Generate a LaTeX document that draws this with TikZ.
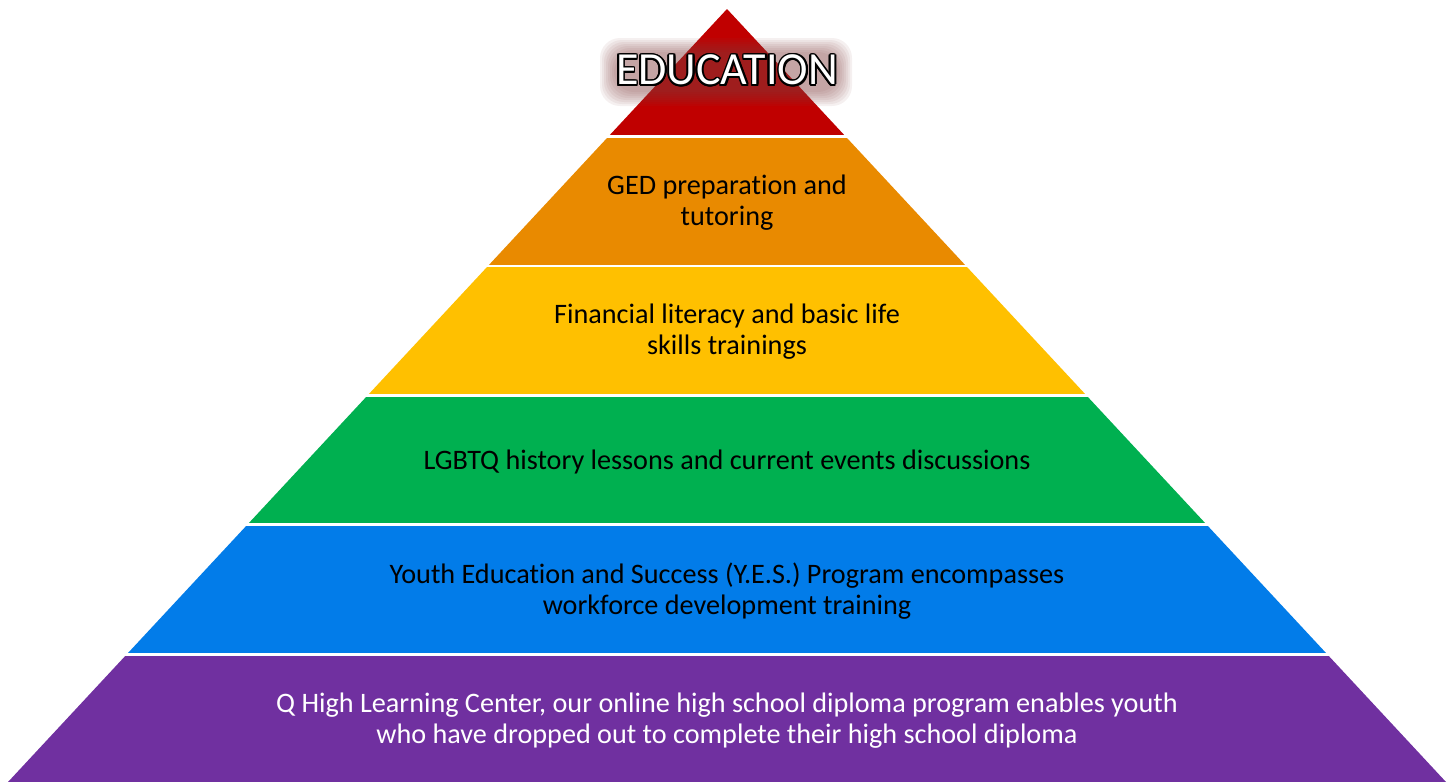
\documentclass[tikz,border=0pt]{standalone}
\usepackage{fontspec}
\setmainfont{Carlito}[Ligatures=NoCommon]
\usepackage{contour}
\contourlength{0.9pt}
\usetikzlibrary{positioning}

\definecolor{edured}{RGB}{192,0,0}
\definecolor{eduorange}{RGB}{233,138,0}
\definecolor{eduyellow}{RGB}{255,192,0}
\definecolor{edugreen}{RGB}{0,176,80}
\definecolor{edublue}{RGB}{2,124,233}
\definecolor{edupurple}{RGB}{112,48,160}
\definecolor{eduglow}{RGB}{130,65,65}

\tikzset{
    leveltext/.style={align=center, font=\fontsize{14.1}{15.6}\selectfont, inner sep=0pt},
}

\begin{document}
\begin{tikzpicture}[x=0.5pt, y=-0.5pt]
        \useasboundingbox (0, 0) rectangle (1455, 782);

        % pyramid bands
        \begin{scope}
            \clip (727, 9) -- (8, 782) -- (1446, 782) -- cycle;
            \foreach \ytop/\ybot/\col in {9/135/edured, 138/265/eduorange, 267/394/eduyellow, 397/523/edugreen, 526/653/edublue, 656/782/edupurple}
                \fill[\col] (0, \ytop) rectangle (1455, \ybot);
        \end{scope}

        % soft glow behind the title
        \foreach \grow in {14, 12, 10, 8, 6, 4, 2, 0}
            \fill[eduglow, opacity=0.08, rounded corners=10pt] (614-\grow, 52-\grow) rectangle (838+\grow, 92+\grow);

        \node[inner sep=0pt] (title) at (727, 71) {\fontsize{23}{25}\selectfont\contour{black}{\textcolor{white}{EDUCATION}}};

        \node[leveltext] (ged) at (727, 203) {GED preparation and\\tutoring};
        \node[leveltext] (finance) at (727, 332) {Financial literacy and basic life\\skills trainings};
        \node[leveltext] (history) at (727, 462) {LGBTQ history lessons and current events discussions};
        \node[leveltext] (yes) at (727, 591) {Youth Education and Success (Y.E.S.) Program encompasses\\workforce development training};
        \node[leveltext, text=white] (qhigh) at (727, 721) {Q High Learning Center, our online high school diploma program enables youth\\who have dropped out to complete their high school diploma};
    \end{tikzpicture}
\end{document}
